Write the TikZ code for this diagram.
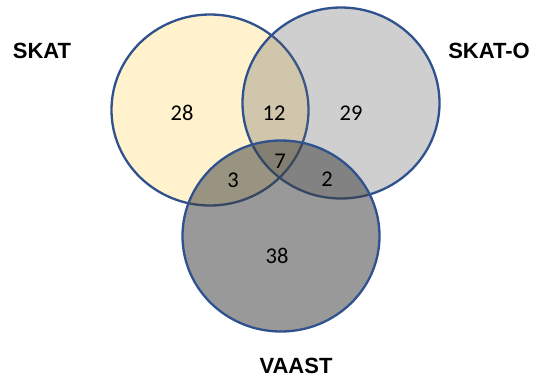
\documentclass[tikz,border=0pt]{standalone}
\usepackage{fontspec}
\setmainfont{Carlito}
\newfontfamily\labfont{Liberation Sans}
\usetikzlibrary{shapes.geometric}
\definecolor{ringblue}{HTML}{2F528F}
\definecolor{skatfill}{HTML}{FFF2CC}
\definecolor{skatofill}{RGB}{98,98,98}
\definecolor{vaastfill}{RGB}{61,61,61}
\begin{document}
\begin{tikzpicture}[x=1pt,y=-1pt,
  setring/.style={ellipse,draw=ringblue,line width=2.3pt,inner sep=0pt,
    minimum width=197pt,minimum height=191pt},
  count/.style={font=\fontsize{22.5}{22.5}\selectfont,inner sep=0pt},
  setlabel/.style={font=\labfont\bfseries\fontsize{22}{22}\selectfont,inner sep=0pt}]
\useasboundingbox (0,0) rectangle (542,381);
\fill[white] (0,0) rectangle (542,381);
\node[setring,fill=skatfill] (skat) at (210,110) {};
\node[setring,fill=skatofill,fill opacity=0.3] (skato) at (341,103) {};
\node[setring,fill=vaastfill,fill opacity=0.52] (vaast) at (281,236) {};
\node[count] (n28) at (182,113) {28};
\node[count] (n12) at (274,113) {12};
\node[count] (n29) at (351,113) {29};
\node[count] (n7) at (280,161) {7};
\node[count] (n3) at (233,180) {3};
\node[count] (n2) at (327,179) {2};
\node[count] (n38) at (277,256) {38};
\node[setlabel] (lskat) at (42,51) {SKAT};
\node[setlabel] (lskato) at (489,51) {SKAT-O};
\node[setlabel] (lvaast) at (296,366) {VAAST};
\end{tikzpicture}
\end{document}
